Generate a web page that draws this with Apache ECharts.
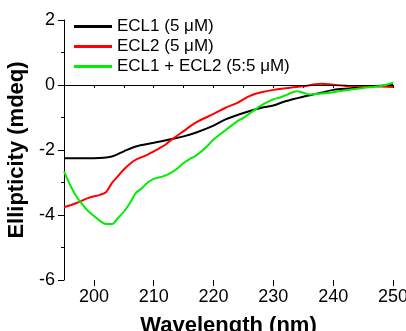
<!DOCTYPE html>
<html><head><meta charset="utf-8">
<script src="https://cdn.jsdelivr.net/npm/echarts@6/dist/echarts.min.js"></script>
<style>html,body{margin:0;padding:0;background:#fff}#c{width:406px;height:331px}</style>
</head><body><div id="c"></div>
<script>
const seriesNames = ['ECL1 (5 μM)', 'ECL2 (5 μM)', 'ECL1 + ECL2 (5:5 μM)'];
const xTickLabels = [200, 210, 220, 230, 240, 250];
const yTickLabels = [-6, -4, -2, 0, 2];

const ecl1X = [195, 200, 203, 205, 207, 210, 213, 215, 217, 220, 222, 225, 228, 230, 232, 235, 238, 240, 243, 245, 248, 250];
const ecl1Y = [-2.25, -2.25, -2.2, -2.04, -1.89, -1.78, -1.66, -1.58, -1.47, -1.25, -1.06, -0.86, -0.70, -0.63, -0.5, -0.36, -0.24, -0.15, -0.1, -0.06, -0.02, 0];

const ecl2X = [195, 197, 199, 201, 202, 203, 204, 205, 206, 207, 208, 209, 210, 211, 212, 213, 215, 217, 220, 222, 224, 225, 226, 227, 228, 230, 233, 235, 237, 238, 240, 243, 245, 248, 250];
const ecl2Y = [-3.76, -3.64, -3.48, -3.38, -3.3, -3.02, -2.81, -2.6, -2.43, -2.3, -2.22, -2.14, -2.04, -1.94, -1.83, -1.68, -1.42, -1.16, -0.89, -0.70, -0.55, -0.44, -0.34, -0.27, -0.22, -0.15, -0.08, -0.04, 0.02, 0.04, 0.01, -0.03, -0.03, -0.05, -0.06];

const mixX = [195, 196, 197, 198, 199, 200, 201, 202, 203, 204, 205, 206, 207, 208, 209, 210, 211, 212, 213, 214, 215, 216, 217, 218, 219, 220, 221, 222, 223, 224, 225, 226, 227, 228, 229, 230, 231, 232, 233, 234, 235, 236, 238, 240, 243, 245, 248, 250];
const mixY = [-2.66, -3.07, -3.41, -3.66, -3.87, -4.03, -4.18, -4.28, -4.28, -4.1, -3.9, -3.64, -3.33, -3.18, -3.0, -2.89, -2.84, -2.78, -2.69, -2.56, -2.4, -2.28, -2.18, -2.04, -1.87, -1.68, -1.53, -1.39, -1.25, -1.11, -1.01, -0.88, -0.75, -0.63, -0.53, -0.44, -0.39, -0.32, -0.24, -0.19, -0.24, -0.29, -0.26, -0.22, -0.14, -0.09, -0.03, 0.07];

const colors = ['#000000', '#ff0000', '#00ee00'];
const zip = (xs, ys) => xs.map((x, i) => [x, ys[i]]);
const datasets = [zip(ecl1X, ecl1Y), zip(ecl2X, ecl2Y), zip(mixX, mixY)];

const chart = echarts.init(document.getElementById('c'), null, {renderer: 'canvas'});
const font = 'Liberation Sans, Arial, sans-serif';
chart.setOption({
  animation: false,
  textStyle: {fontFamily: font},
  grid: {left: 64, right: 13, top: 20, bottom: 51, outerBoundsMode: 'none', containLabel: false},
  legend: {
    orient: 'vertical', left: 74, top: 18, padding: 0, itemGap: 3, itemWidth: 38, itemHeight: 3,
    icon: 'rect',
    textStyle: {fontSize: 17, color: '#000', fontFamily: font, padding: [0, 0, 0, 0]},
    data: seriesNames
  },
  xAxis: [{
    type: 'value', min: 195, max: 250, interval: 5,
    axisLine: {show: true, lineStyle: {color: '#000', width: 1}},
    axisTick: {show: true, length: 3, lineStyle: {color: '#000'}},
    axisLabel: {color: '#000', fontSize: 18, margin: 8, fontFamily: font,
      formatter: v => (xTickLabels.indexOf(v) >= 0 ? String(v) : '')},
    splitLine: {show: false},
    name: 'Wavelength (nm)', nameLocation: 'middle', nameGap: 35,
    nameTextStyle: {fontSize: 22, fontWeight: 'bold', color: '#000', fontFamily: font}
  }, {
    type: 'value', min: 195, max: 250, position: 'bottom',
    axisLine: {show: false},
    axisTick: {show: true, length: 6, customValues: xTickLabels, lineStyle: {color: '#000'}},
    axisLabel: {show: false},
    splitLine: {show: false}
  }],
  yAxis: {
    type: 'value', min: -6, max: 2, interval: 2,
    axisLine: {show: true, lineStyle: {color: '#000', width: 1}},
    axisTick: {show: true, length: 6, lineStyle: {color: '#000'}},
    minorTick: {show: true, splitNumber: 2, length: 3, lineStyle: {color: '#000'}},
    axisLabel: {color: '#000', fontSize: 18, margin: 9, fontFamily: font,
      formatter: v => (yTickLabels.indexOf(v) >= 0 ? String(v) : '')},
    splitLine: {show: false},
    name: 'Ellipticity (mdeq)', nameLocation: 'middle', nameGap: 33,
    nameTextStyle: {fontSize: 22, fontWeight: 'bold', color: '#000', fontFamily: font}
  },
  series: seriesNames.map((n, i) => ({
    name: n, type: 'line', data: datasets[i], xAxisIndex: 0,
    symbol: 'none', smooth: 0.3, z: 3 + i,
    lineStyle: {color: colors[i], width: 2},
    itemStyle: {color: colors[i]},
    markLine: i === 0 ? {
      silent: true, symbol: 'none', label: {show: false},
      lineStyle: {color: '#000', width: 1, type: 'solid'},
      data: [{yAxis: 0}]
    } : undefined
  }))
});
</script></body></html>
